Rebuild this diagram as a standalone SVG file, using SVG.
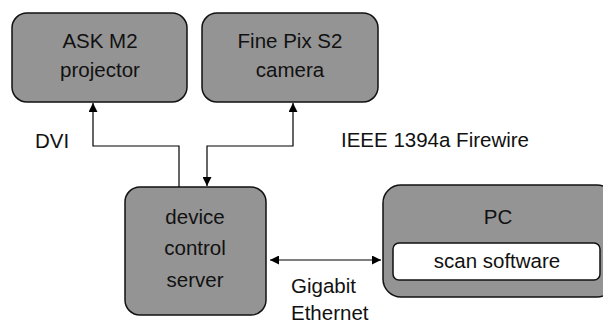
<svg xmlns="http://www.w3.org/2000/svg" width="603" height="324" viewBox="0 0 603 324">
<defs>
<marker id="ah" viewBox="0 0 10 10" refX="10" refY="5" markerWidth="9" markerHeight="9" markerUnits="userSpaceOnUse" orient="auto-start-reverse">
<path d="M0,0 L10,5 L0,10 Z" fill="#000"/>
</marker>
<style>
.box{fill:#949494;stroke:#111;stroke-width:1.5}
.inner{fill:#fff;stroke:#111;stroke-width:1.5}
.t{font-family:"Liberation Sans",Arial,sans-serif;font-size:20.5px;fill:#111;text-anchor:middle}
.l{font-family:"Liberation Sans",Arial,sans-serif;font-size:20.5px;fill:#111}
.c{fill:none;stroke:#000;stroke-width:1.2}
</style>
</defs>
<rect width="603" height="324" fill="#fff"/>
<g id="projector">
<rect class="box" x="12" y="13" width="175" height="89" rx="15"/>
<text class="t" x="100" y="48">ASK M2</text>
<text class="t" x="100" y="77">projector</text>
</g>
<g id="camera">
<rect class="box" x="202" y="13" width="176" height="89" rx="15"/>
<text class="t" x="290" y="48">Fine Pix S2</text>
<text class="t" x="290" y="77">camera</text>
</g>
<g id="server">
<rect class="box" x="125" y="187" width="141" height="128" rx="15"/>
<text class="t" x="195" y="224">device</text>
<text class="t" x="195" y="255">control</text>
<text class="t" x="195" y="287">server</text>
</g>
<g id="pc">
<rect class="box" x="383" y="185" width="232" height="112" rx="18"/>
<text class="t" x="498" y="224">PC</text>
<g id="scan">
<rect class="inner" x="393" y="243" width="207" height="37" rx="6"/>
<text class="t" x="497" y="268">scan software</text>
</g>
</g>
<g id="connectors">
<path class="c" d="M179,187 V146 H93 V103" marker-end="url(#ah)"/>
<path class="c" d="M293,103 V146 H207 V186" marker-start="url(#ah)" marker-end="url(#ah)"/>
<path class="c" d="M270,260 H381" marker-start="url(#ah)" marker-end="url(#ah)"/>
</g>
<g id="labels">
<text class="l" x="35" y="148">DVI</text>
<text class="l" x="341" y="147">IEEE 1394a Firewire</text>
<text class="l" x="291" y="293">Gigabit</text>
<text class="l" x="291" y="320">Ethernet</text>
</g>
</svg>
